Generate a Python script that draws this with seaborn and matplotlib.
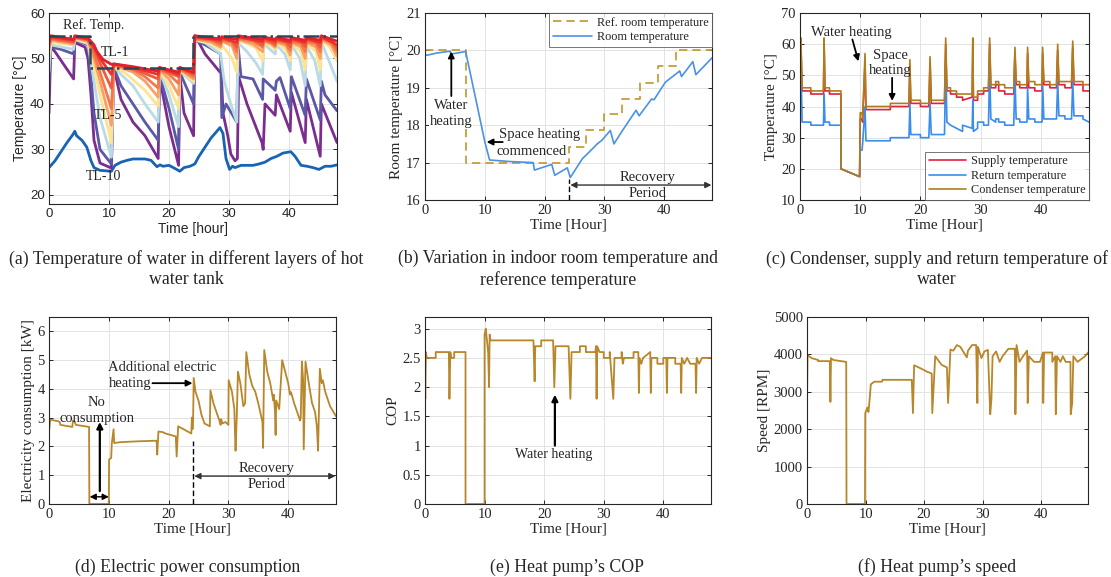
import numpy as np
import pandas as pd
import matplotlib
matplotlib.use("Agg")
import matplotlib.pyplot as plt
import seaborn as sns

# ---------------- data ----------------
# (a) tank layer temperatures, (time [h], temperature [C])
ref_temp = [(0, 55), (6.8, 55), (6.8, 48), (24, 48), (24, 55), (48, 55)]

tl1 = [(0, 54), (0.3, 55), (4.1, 54.2), (4.3, 55), (6.5, 54.5), (7.5, 53), (8, 51.5), (9, 49.8),
       (10.4, 48.7), (10.8, 48.8), (14, 48.2), (18.2, 47.2), (18.4, 48), (21.6, 47), (21.8, 48),
       (24.1, 47), (24.3, 55), (28.6, 54.3), (28.8, 54.8), (31.3, 54.2), (31.5, 55), (35.6, 54.2),
       (35.8, 54.7), (37.7, 54.2), (37.9, 54.6), (40.2, 54), (40.4, 54.6), (42.7, 54), (42.9, 54.6),
       (45.2, 54), (45.4, 55), (48, 53.8)]
tl2 = [(0, 53.5), (0.3, 54.8), (4.1, 54), (4.3, 54.8), (6.5, 54.3), (7.5, 52.5), (8.5, 50), (10.4, 46.5),
       (10.8, 48.8), (14, 48), (18.2, 46.5), (18.4, 48), (21.6, 46.5), (21.8, 48), (24.1, 46.8),
       (24.3, 54.8), (28.6, 54), (28.8, 54.6), (31.3, 53.5), (31.5, 54.8), (35.6, 53.7), (35.8, 54.5),
       (37.7, 53.8), (37.9, 54.4), (40.2, 53.5), (40.4, 54.4), (42.7, 53.5), (42.9, 54.4), (45.2, 53.5),
       (45.4, 54.8), (48, 53)]
tl3 = [(0, 53), (0.3, 54.5), (4.1, 53.7), (4.3, 54.7), (6.5, 54.2), (7.5, 52), (8.5, 49), (10.4, 43.5),
       (10.8, 48.7), (14, 47.8), (18.2, 45.5), (18.4, 47.8), (21.6, 46), (21.8, 47.8), (24.1, 46.5),
       (24.3, 54.6), (27, 54.2), (28.6, 53.5), (28.8, 54.3), (30.5, 53.9), (31.3, 52.5), (31.5, 54.6),
       (34, 54.1), (35.6, 53), (35.8, 54.2), (37.7, 53.2), (37.9, 54.1), (39.5, 53.7), (40.2, 52.6),
       (40.4, 54.1), (42, 53.7), (42.7, 52.6), (42.9, 54.1), (44.5, 53.7), (45.2, 52.5), (45.4, 54.6),
       (47, 54), (48, 52.3)]
tl4 = [(0, 52.5), (0.3, 54.3), (4.1, 53.5), (4.3, 54.6), (6.5, 54), (7.5, 51), (8.5, 47), (10.4, 39),
       (10.8, 48.6), (14, 47.5), (16, 46), (18.2, 43.5), (18.4, 47.7), (20, 46.5), (21.6, 44.5),
       (21.8, 47.7), (24.1, 46), (24.3, 54.4), (27, 54), (28.6, 53), (28.8, 54), (30.5, 53.5),
       (31.3, 51.5), (31.5, 54.4), (34, 53.8), (35.6, 52.5), (35.8, 54), (37, 53.6), (37.7, 52.8),
       (37.9, 53.9), (39.5, 53.3), (40.2, 51.8), (40.4, 53.8), (42, 53.2), (42.7, 51.5), (42.9, 53.8),
       (44.5, 53.2), (45.2, 51.5), (45.4, 54.4), (47, 53.5), (48, 51.5)]
tl5 = [(0, 52), (0.3, 54), (4.1, 53.2), (4.3, 54.5), (6.5, 53.8), (7.5, 50), (8.5, 45), (10.4, 35.3),
       (10.8, 48.5), (14, 47), (16, 45), (18.2, 41.5), (18.4, 47.6), (20, 45.5), (21.6, 42), (21.8, 47.6),
       (24.1, 45.5), (24.3, 54.3), (27, 53.6), (28.6, 52.5), (28.8, 53.8), (30.5, 52.8), (31.3, 50),
       (31.5, 54.2), (34, 53.2), (35.6, 51.5), (35.8, 53.8), (37, 53.2), (37.7, 52.5), (37.9, 53.7),
       (39.5, 52.8), (40.2, 50.8), (40.4, 53.6), (42, 52.5), (42.7, 50), (42.9, 53.6), (44.5, 52.5),
       (45.2, 50), (45.4, 54.2), (47, 53), (48, 50.5)]
tl6 = [(0, 50), (0.3, 53.5), (4.1, 53), (4.3, 54.3), (6.5, 53.5), (7.5, 48), (8.5, 42), (10.4, 31.4),
       (10.8, 48.4), (13, 46.5), (16, 43), (18.2, 39.5), (18.4, 47.5), (20, 44), (21.6, 39), (21.8, 47.5),
       (24.1, 45), (24.3, 54.2), (27, 53.2), (28.6, 52), (28.8, 53), (30.5, 50), (31.3, 47), (31.5, 54),
       (33, 53.3), (34.5, 52.3), (35.6, 49.5), (35.8, 53.5), (37, 52.8), (37.7, 52), (37.9, 53.4),
       (39.5, 52), (40.2, 49.5), (40.4, 53.3), (42, 51.5), (42.7, 47.5), (42.9, 53.3), (44.5, 51.5),
       (45.2, 47.5), (45.4, 54), (46.8, 52.5), (48, 49.5)]
tl7 = [(0, 47), (0.3, 53), (4.1, 52), (4.3, 54.2), (6.5, 53.2), (7.5, 45), (8.5, 37), (10.4, 28.3),
       (10.8, 48.3), (12, 46.5), (14, 44), (16, 40), (18.2, 36), (18.4, 47.3), (20, 42), (21.6, 35),
       (21.8, 47.3), (24.1, 44.5), (24.3, 54), (26, 53.5), (27, 52.5), (28.6, 51), (29.2, 45),
       (30.3, 40), (31.3, 36), (31.5, 53.5), (33, 51.5), (34.5, 49), (35.6, 46.5), (35.8, 53.2),
       (37.7, 51), (37.9, 53), (39.3, 51), (40.2, 47.5), (40.4, 53), (41.8, 50), (42.7, 44),
       (42.9, 52.8), (44.3, 49.5), (45.2, 44), (45.4, 53.5), (46.5, 50), (48, 45)]
tl8 = [(0, 44), (0.3, 52.5), (2, 52), (4.1, 51), (4.3, 54), (6.5, 53), (7, 46), (7.5, 38), (8.5, 30),
       (10.4, 26.8), (10.8, 48), (12, 44), (14, 40), (16, 36), (18.2, 32), (18.4, 46.5), (20, 39),
       (21.6, 30), (21.8, 47), (24.1, 40), (24.3, 54), (26, 53), (28.6, 51), (28.8, 37), (29.5, 40),
       (31.3, 36), (31.5, 53), (32, 46), (34, 45.5), (35.6, 41), (35.7, 45.5), (37.7, 43), (37.9, 45),
       (38.5, 45.8), (40.2, 39), (40.4, 46), (42.7, 37.5), (42.9, 45.5), (45.2, 36.5), (45.4, 45),
       (46, 42), (48, 38.5)]
tl9 = [(0, 38), (0.3, 52.5), (1, 51.5), (4.1, 45.5), (4.3, 53.5), (6, 52.5), (6.5, 50), (7, 42),
       (7.5, 32), (8.5, 27), (10.4, 25.9), (10.8, 48), (12, 41), (14, 36), (16, 33), (18.2, 28),
       (18.4, 46), (20, 35), (21.6, 26.5), (21.8, 46.5), (22.5, 38), (24.1, 33), (24.3, 55), (25, 53.5),
       (26, 51), (28.5, 47), (28.7, 47.5), (29, 38), (29.8, 33), (30.3, 29), (31, 27.5), (31.4, 28),
       (31.6, 46), (33, 40), (35.5, 31.5), (35.7, 30), (36, 40), (37.7, 37.5), (37.9, 42), (40.2, 34),
       (40.4, 42.5), (42.7, 31.5), (42.9, 41), (45.2, 28.5), (45.4, 40), (48, 31.5)]
tl10 = [(0, 26), (1, 27.5), (2, 29.5), (3, 31.5), (4, 33.3), (4.3, 34), (4.6, 33), (5.5, 32), (6.3, 30.5),
        (7, 27.5), (7.5, 26), (8.5, 25.4), (10.4, 25.2), (11, 26.5), (12, 27.2), (13, 27.6), (14, 27.9),
        (16, 27.9), (17, 27.6), (18, 26.2), (18.5, 26.6), (19, 26.3), (20, 26.5), (21, 25.8), (21.8, 25.2),
        (22.5, 26), (23.5, 26.3), (24.3, 26.8), (25, 28.5), (26, 30.5), (27, 32.5), (28.5, 34.8),
        (29, 33.5), (29.5, 28), (30.1, 25.6), (30.6, 26.3), (31, 26), (32, 26.5), (34, 26.5), (35, 26.8),
        (36, 27.2), (37, 28), (38, 28.5), (39, 29.2), (40.3, 29.5), (41, 28.5), (42, 26.5), (43, 26.3),
        (44, 26), (45, 25.6), (46, 26.3), (47, 26.3), (48, 26.6)]
layers = [tl1, tl2, tl3, tl4, tl5, tl6, tl7, tl8, tl9, tl10]
layer_colors = ["#e4202e", "#e8342c", "#ef5a3a", "#f4794a", "#f9a065",
                "#fee393", "#b9dbe6", "#5b58a6", "#7b2d8f", "#1764b5"]

# (b) room temperature
ref_room = [(0, 20), (6.8, 20), (6.8, 17), (24, 17), (24, 17.43), (27, 17.43), (27, 17.86), (30, 17.86),
            (30, 18.29), (33, 18.29), (33, 18.71), (36, 18.71), (36, 19.14), (39, 19.14), (39, 19.57),
            (42, 19.57), (42, 20), (48, 20)]
room = [(0, 19.9), (0.3, 19.87), (2, 19.93), (4.2, 19.98), (4.3, 19.9), (6.8, 19.97), (10, 17.56),
        (10.8, 17.07), (14, 17.03), (18.1, 17.0), (18.3, 16.8), (21.2, 16.95), (21.7, 16.66),
        (23.8, 16.86), (24.3, 16.6), (26.3, 17.1), (28.2, 17.4), (28.8, 17.5), (29.6, 17.6), (31, 17.86),
        (31.6, 17.5), (33, 17.85), (35.3, 18.4), (35.8, 18.25), (37.9, 18.7), (38.3, 18.68), (40.2, 19.15),
        (42.6, 19.45), (42.9, 19.3), (44.8, 19.7), (45.3, 19.35), (48, 19.8)]

# (c) condenser / supply / return temperatures share one time base
c_time = [0, 0.15, 0.35, 1.8, 1.8, 3.9, 4.0, 4.15, 4.9, 4.9, 6.8, 6.8, 9.9, 10.0, 10.3, 10.4, 10.8,
          10.95, 15, 15, 18.1, 18.25, 18.4, 20, 20, 21.4, 21.6, 21.8, 24.0, 24.2, 24.4, 25, 25, 26,
          26, 27, 27, 28.6, 28.7, 28.8, 29.5, 29.5, 30.5, 30.5, 31.3, 31.5, 31.7, 32.5, 32.5, 33, 33,
          34, 34, 35.5, 35.7, 35.9, 36.5, 36.5, 37.7, 37.8, 38.0, 39, 39, 40.2, 40.3, 40.5, 41.5,
          41.5, 42.6, 42.8, 43.0, 44, 44, 45.1, 45.3, 45.5, 47, 47, 48]
condenser = [54, 62, 46, 46, 45, 45, 62, 46, 46, 45, 45, 20, 17.5, 38, 38, 36, 57, 40, 40, 41, 41, 55,
             42, 42, 41, 41, 56, 42, 42, 62, 46, 46, 45, 45, 44, 44, 44, 44, 62, 43, 43, 45, 45, 46,
             46, 62, 47, 47, 48, 48, 47, 47, 46, 46, 59, 48, 48, 47, 47, 59, 48, 48, 47, 47, 59, 48,
             48, 47, 47, 60, 48, 48, 48, 48, 61, 48, 48, 47, 47]
supply = [50, 60, 45, 45, 44, 44, 60, 45, 45, 44, 44, 20, 17.5, 36, 36, 35, 54, 39, 39, 40, 40, 53,
          41, 41, 40, 40, 54, 41, 41, 60, 45, 45, 44, 44, 43, 43, 42, 43, 60, 42, 42, 44, 44, 45,
          45, 60, 46, 46, 47, 47, 45, 45, 44, 44, 57, 47, 47, 46, 46, 57, 46, 46, 45, 45, 57, 47,
          47, 46, 46, 58, 47, 47, 46, 46, 59, 47, 47, 45, 45]
ret = [50, 55, 35, 35, 34, 34, 44, 35, 35, 34, 34, 20, 17.5, 26, 26, 28, 40, 29, 29, 30, 30, 41,
       31, 31, 30, 30, 41, 31, 31, 55, 35, 34, 34, 33, 33, 32, 34, 33, 42, 32, 33, 35, 35, 34,
       34, 52, 36, 35, 36, 36, 35, 35, 34, 34, 50, 36, 36, 35, 35, 46, 36, 36, 35, 35, 47, 36,
       36, 36, 36, 48, 37, 37, 36, 36, 48, 37, 37, 36, 35]

# (d) electricity consumption [kW]
power = [(0, 2.5), (0.2, 2.93), (1.5, 2.88), (1.8, 2.85), (1.9, 2.75), (3.9, 2.68), (4.0, 2.9),
         (4.3, 2.85), (4.5, 2.75), (6.7, 2.68), (6.75, 0.0), (10.0, 0.0), (10.05, 1.55), (10.4, 1.6),
         (10.5, 2.1), (10.8, 2.6), (10.9, 2.12), (12, 2.15), (15, 2.18), (18.0, 2.2), (18.1, 1.72),
         (18.3, 2.52), (19, 2.5), (19.5, 2.45), (20, 2.42), (21.2, 2.35), (21.35, 1.65), (21.6, 2.7),
         (22.5, 2.6), (23.8, 2.45), (23.9, 3.0), (24.0, 2.6), (24.1, 2.9), (24.2, 4.38), (24.5, 3.9),
         (25, 3.6), (25.5, 3.1), (26, 2.8), (26.9, 2.7), (27.0, 3.95), (27.5, 3.5), (28, 3.2),
         (28.5, 2.9), (28.7, 2.75), (28.8, 2.95), (29.0, 2.8), (29.5, 2.85), (30.0, 2.75), (30.05, 4.3),
         (30.6, 3.9), (31.0, 3.3), (31.1, 2.5), (31.2, 1.85), (31.4, 3.0), (31.6, 4.6), (32.0, 4.2),
         (32.5, 3.4), (32.8, 3.5), (33.0, 5.28), (33.5, 4.5), (34, 4.1), (34.5, 3.9), (35, 3.5),
         (35.7, 2.85), (35.8, 1.95), (36.0, 5.35), (36.5, 4.6), (37, 4.2), (37.5, 3.6), (37.6, 3.8),
         (37.8, 3.2), (37.9, 2.4), (38.0, 3.6), (38.5, 3.3), (39.0, 5.0), (39.5, 4.6), (40, 4.2),
         (40.3, 3.8), (40.4, 3.9), (40.6, 3.8), (41, 3.5), (41.5, 3.2), (42.0, 2.9), (42.1, 3.0),
         (42.3, 4.95), (42.5, 4.3), (42.6, 1.9), (42.9, 4.95), (43.3, 4.4), (43.6, 4.0), (44, 3.5),
         (44.5, 3.2), (44.8, 2.7), (45.0, 1.85), (45.3, 4.7), (45.6, 4.2), (45.8, 4.3), (46.2, 3.9),
         (47, 3.4), (48, 3.05)]

# (e) COP
cop = [(0, 2.1), (0.05, 1.8), (0.15, 2.6), (0.3, 2.5), (1.8, 2.5), (1.8, 2.6), (4.0, 2.6), (4.1, 1.8),
       (4.25, 2.6), (4.4, 2.5), (4.9, 2.5), (4.9, 2.6), (6.8, 2.6), (6.8, 0), (10.0, 0), (10.0, 2.9),
       (10.2, 3.0), (10.4, 2.8), (10.6, 2.6), (10.75, 2.0), (10.85, 2.9), (11.0, 2.8), (18.2, 2.8),
       (18.4, 2.1), (18.5, 2.7), (19.5, 2.7), (19.5, 2.8), (21.5, 2.8), (21.7, 2.0), (21.9, 2.7),
       (24.1, 2.7), (24.4, 1.8), (24.6, 2.6), (26, 2.6), (26, 2.7), (27, 2.7), (27, 2.6), (28.6, 2.6),
       (28.7, 2.7), (28.8, 1.8), (28.9, 2.7), (29.3, 2.6), (30, 2.6), (30, 2.5), (31, 2.5), (31, 2.6),
       (31.6, 1.8), (31.8, 2.5), (33, 2.5), (33, 2.6), (33.2, 2.4), (33.4, 2.5), (35, 2.5), (35, 2.6),
       (35.8, 2.6), (35.9, 1.9), (36.0, 2.5), (36.3, 2.4), (36.6, 2.5), (37.8, 2.6), (37.9, 1.9),
       (38.0, 2.5), (39, 2.5), (39, 2.4), (40, 2.4), (40, 2.5), (40.5, 2.5), (40.6, 1.9), (40.7, 2.5),
       (42, 2.5), (42, 2.4), (42.9, 2.4), (43.0, 1.9), (43.1, 2.5), (43.5, 2.4), (44, 2.5), (44.5, 2.4),
       (45.4, 2.4), (45.5, 1.9), (45.6, 2.5), (46, 2.4), (46.5, 2.5), (48, 2.5)]

# (f) compressor speed [RPM]
speed = [(0, 2735), (0.1, 3980), (0.8, 3900), (1.9, 3850), (1.9, 3820), (3.9, 3820), (4.0, 2730),
         (4.1, 3900), (4.5, 3850), (6.7, 3800), (6.75, 0), (9.9, 0), (9.95, 2430), (10.3, 2580),
         (10.5, 2460), (10.7, 2800), (10.9, 3200), (11.5, 3270), (12.8, 3270), (12.9, 3320), (17.9, 3320),
         (18.1, 2430), (18.3, 3710), (19.5, 3620), (20.6, 3530), (21.3, 3490), (21.4, 2430), (21.9, 3950),
         (23, 3720), (23.9, 3650), (24.1, 2700), (24.5, 4130), (25, 4100), (25.6, 4250), (26.2, 4200),
         (27.3, 3920), (27.5, 4100), (28.2, 4250), (28.9, 4250), (29.1, 2700), (29.2, 4200), (29.8, 3900),
         (30.3, 4080), (30.9, 4120), (31.3, 2400), (31.5, 2800), (31.7, 3950), (32.3, 4080), (32.9, 3800),
         (33.4, 3950), (34.4, 4150), (35.5, 4150), (35.6, 2400), (35.8, 4250), (36.3, 3800), (36.9, 3950),
         (37.6, 4100), (37.7, 2700), (37.9, 3950), (38.8, 3800), (39.8, 3800), (40.3, 4050), (40.35, 2700),
         (40.5, 4050), (41.9, 4050), (41.9, 3800), (42.4, 3950), (42.5, 2400), (42.7, 3950), (43.3, 3800),
         (43.7, 3950), (44.2, 3800), (45.0, 3800), (45.05, 2400), (45.3, 2700), (45.5, 3950), (46.2, 3800),
         (47.5, 3950), (48, 4050)]

# ---------------- styling ----------------
GOLD = "#b8862b"
sns.set_theme(style="whitegrid", rc={
    "axes.edgecolor": "#262626", "axes.linewidth": 0.8, "grid.color": "#e3e3e3",
    "grid.linewidth": 0.7, "xtick.direction": "in", "ytick.direction": "in",
    "xtick.color": "#262626", "ytick.color": "#262626",
})
plt.rcParams["font.family"] = ["Liberation Serif", "DejaVu Serif"]

W, H = 1111, 577
fig = plt.figure(figsize=(W / 100, H / 100), dpi=100)


def add_ax(left, right, top, bottom):
    return fig.add_axes([left / W, 1 - bottom / H, (right - left) / W, (bottom - top) / H])


def draw(ax, points, color, lw=1.2, ls="-", label=None):
    df = pd.DataFrame(points, columns=["t", "v"])
    sns.lineplot(data=df, x="t", y="v", ax=ax, color=color, linewidth=lw, linestyle=ls,
                 estimator=None, sort=False, label=label, legend=False)


def finish(ax, ylabel, xlabel="Time [Hour]", fs=10.5, lfs=11, family=None):
    ax.set_xlim(0, 48)
    ax.set_xticks([0, 10, 20, 30, 40])
    ax.set_xlabel(xlabel, fontsize=lfs, labelpad=1, family=family)
    ax.set_ylabel(ylabel, fontsize=lfs, labelpad=2, family=family)
    ax.tick_params(direction="in", top=True, right=True, length=3, width=0.7,
                   labelsize=fs, pad=3, bottom=True, left=True)
    if family:
        for lab in ax.get_xticklabels() + ax.get_yticklabels():
            lab.set_family(family)
    for s in ax.spines.values():
        s.set_color("#262626")


def arrow(ax, tip, tail, style="-|>", color="black", lw=1.3):
    ax.annotate("", xy=tip, xytext=tail,
                arrowprops=dict(arrowstyle=style, color=color, lw=lw, mutation_scale=9,
                                shrinkA=0, shrinkB=0))


white = dict(facecolor="white", edgecolor="none", pad=0.5)

# ---- (a) ----
ax = add_ax(49, 337, 13, 204)
for pts, col in zip(layers[::-1], layer_colors[::-1]):
    draw(ax, pts, col, lw=2.0)
draw(ax, ref_temp, "#2b4656", lw=1.8, ls="-.")
ax.set_ylim(18, 60)
ax.set_yticks([20, 30, 40, 50, 60])
finish(ax, "Temperature [°C]", "Time [hour]", fs=9.5, lfs=10, family="Liberation Sans")
ax.text(7.4, 57.4, "Ref. Temp.", fontsize=10, ha="center", va="center")
ax.text(11, 51.4, "TL-1", fontsize=10, ha="center", va="center")
ax.text(9.9, 37.5, "TL-5", fontsize=10, ha="center", va="center")
ax.text(9.1, 24, "TL-10", fontsize=10, ha="center", va="center")

# ---- (b) ----
ax = add_ax(425, 712, 13, 200)
draw(ax, ref_room, "#c4962c", lw=1.2, ls=(0, (5, 3)), label="Ref. room temperature")
draw(ax, room, "#4a92e6", lw=1.2, label="Room temperature")
ax.set_ylim(16, 21)
ax.set_yticks([16, 17, 18, 19, 20, 21])
finish(ax, "Room temperature [°C]")
leg = ax.legend(loc="upper right", fontsize=8.8, frameon=True, fancybox=False, borderaxespad=0.0,
                handlelength=3.2, borderpad=0.3, labelspacing=0.2, handletextpad=0.4)
leg.get_frame().set_edgecolor("#555555")
leg.get_frame().set_linewidth(0.7)
ax.text(4.3, 18.54, "Water", fontsize=10.5, ha="center", va="center", bbox=white)
ax.text(4.3, 18.09, "heating", fontsize=10.5, ha="center", va="center", bbox=white)
arrow(ax, (4.4, 19.97), (4.4, 18.78))
ax.text(19.2, 17.76, "Space heating", fontsize=10.5, ha="center", va="center")
ax.text(17.9, 17.31, "commenced", fontsize=10.5, ha="center", va="center")
arrow(ax, (10.3, 17.55), (13.0, 17.55))
ax.plot([24, 24], [16.0, 16.55], color="black", lw=1.0, ls=(0, (4, 2)))
arrow(ax, (24.3, 16.4), (47.9, 16.4), style="<|-|>", color="#333333", lw=1.0)
ax.text(37.2, 16.6, "Recovery", fontsize=10.5, ha="center", va="center")
ax.text(37.2, 16.18, "Period", fontsize=10.5, ha="center", va="center")

# ---- (c) ----
ax = add_ax(800, 1089, 13, 200)
draw(ax, list(zip(c_time, supply)), "#e0203f", lw=1.2, label="Supply temperature")
draw(ax, list(zip(c_time, ret)), "#3a8ced", lw=1.2, label="Return temperature")
draw(ax, list(zip(c_time, condenser)), "#b07d1d", lw=1.2, label="Condenser temperature")
ax.set_ylim(10, 70)
ax.set_yticks([10, 20, 30, 40, 50, 60, 70])
finish(ax, "Temperature [°C]")
leg = ax.legend(loc="lower right", fontsize=8.8, frameon=True, fancybox=False, borderaxespad=0.0,
                handlelength=3.0, borderpad=0.3, labelspacing=0.2, handletextpad=0.4)
leg.get_frame().set_edgecolor("#555555")
leg.get_frame().set_linewidth(0.7)
ax.text(8.6, 63.9, "Water heating", fontsize=10.5, ha="center", va="center")
arrow(ax, (9.7, 54.5), (8.7, 61.5))
ax.text(15.0, 56.5, "Space", fontsize=10.5, ha="center", va="center")
ax.text(15.0, 51.5, "heating", fontsize=10.5, ha="center", va="center")
arrow(ax, (15.3, 41.8), (15.3, 49.2))

# ---- (d) ----
ax = add_ax(49, 336, 317, 504)
draw(ax, power, GOLD, lw=1.3)
ax.set_ylim(0, 6.5)
ax.set_yticks([0, 1, 2, 3, 4, 5, 6])
finish(ax, "Electricity consumption [kW]")
ax.text(8.0, 3.54, "No", fontsize=10.5, ha="center", va="center")
ax.text(8.0, 2.98, "consumption", fontsize=10.5, ha="center", va="center")
arrow(ax, (8.5, 2.85), (8.5, 0.45), lw=1.6)
arrow(ax, (6.8, 0.25), (10.0, 0.25), style="<|-|>", lw=1.0)
ax.text(18.9, 4.75, "Additional electric", fontsize=10.5, ha="center", va="center")
ax.text(13.6, 4.2, "heating", fontsize=10.5, ha="center", va="center")
arrow(ax, (24.0, 4.2), (17.3, 4.2))
ax.plot([24, 24], [0, 2.2], color="black", lw=1.0, ls=(0, (4, 2)))
arrow(ax, (24.3, 0.97), (47.9, 0.97), style="<|-|>", color="#333333", lw=1.0)
ax.text(36.4, 1.22, "Recovery", fontsize=10.5, ha="center", va="center")
ax.text(36.4, 0.68, "Period", fontsize=10.5, ha="center", va="center")

# ---- (e) ----
ax = add_ax(425, 711, 317, 504)
draw(ax, cop, GOLD, lw=1.3)
ax.set_ylim(0, 3.2)
ax.set_yticks([0, 0.5, 1, 1.5, 2, 2.5, 3])
ax.set_yticklabels(["0", "0.5", "1", "1.5", "2", "2.5", "3"])
finish(ax, "COP")
ax.text(21.6, 0.85, "Water heating", fontsize=10, ha="center", va="center")
arrow(ax, (21.8, 1.87), (21.8, 1.0), lw=1.6)

# ---- (f) ----
ax = add_ax(807, 1088, 317, 504)
draw(ax, speed, GOLD, lw=1.3)
ax.set_ylim(0, 5000)
ax.set_yticks([0, 1000, 2000, 3000, 4000, 5000])
finish(ax, "Speed [RPM]")

# ---- captions ----
cap = dict(ha="center", va="center", fontsize=12.8, linespacing=1.3)
fig.text(186 / W, 1 - 269 / H, "(a) Temperature of water in different layers of hot\nwater tank", **cap)
fig.text(558 / W, 1 - 269 / H, "(b) Variation in indoor room temperature and\nreference temperature", **cap)
fig.text(937 / W, 1 - 269 / H, "(c) Condenser, supply and return temperature of\nwater", **cap)
fig.text(188 / W, 1 - 567 / H, "(d) Electric power consumption", **cap)
fig.text(567 / W, 1 - 567 / H, "(e) Heat pump\u2019s COP", **cap)
fig.text(937 / W, 1 - 567 / H, "(f) Heat pump\u2019s speed", **cap)

fig.savefig("out.png", dpi=100)
